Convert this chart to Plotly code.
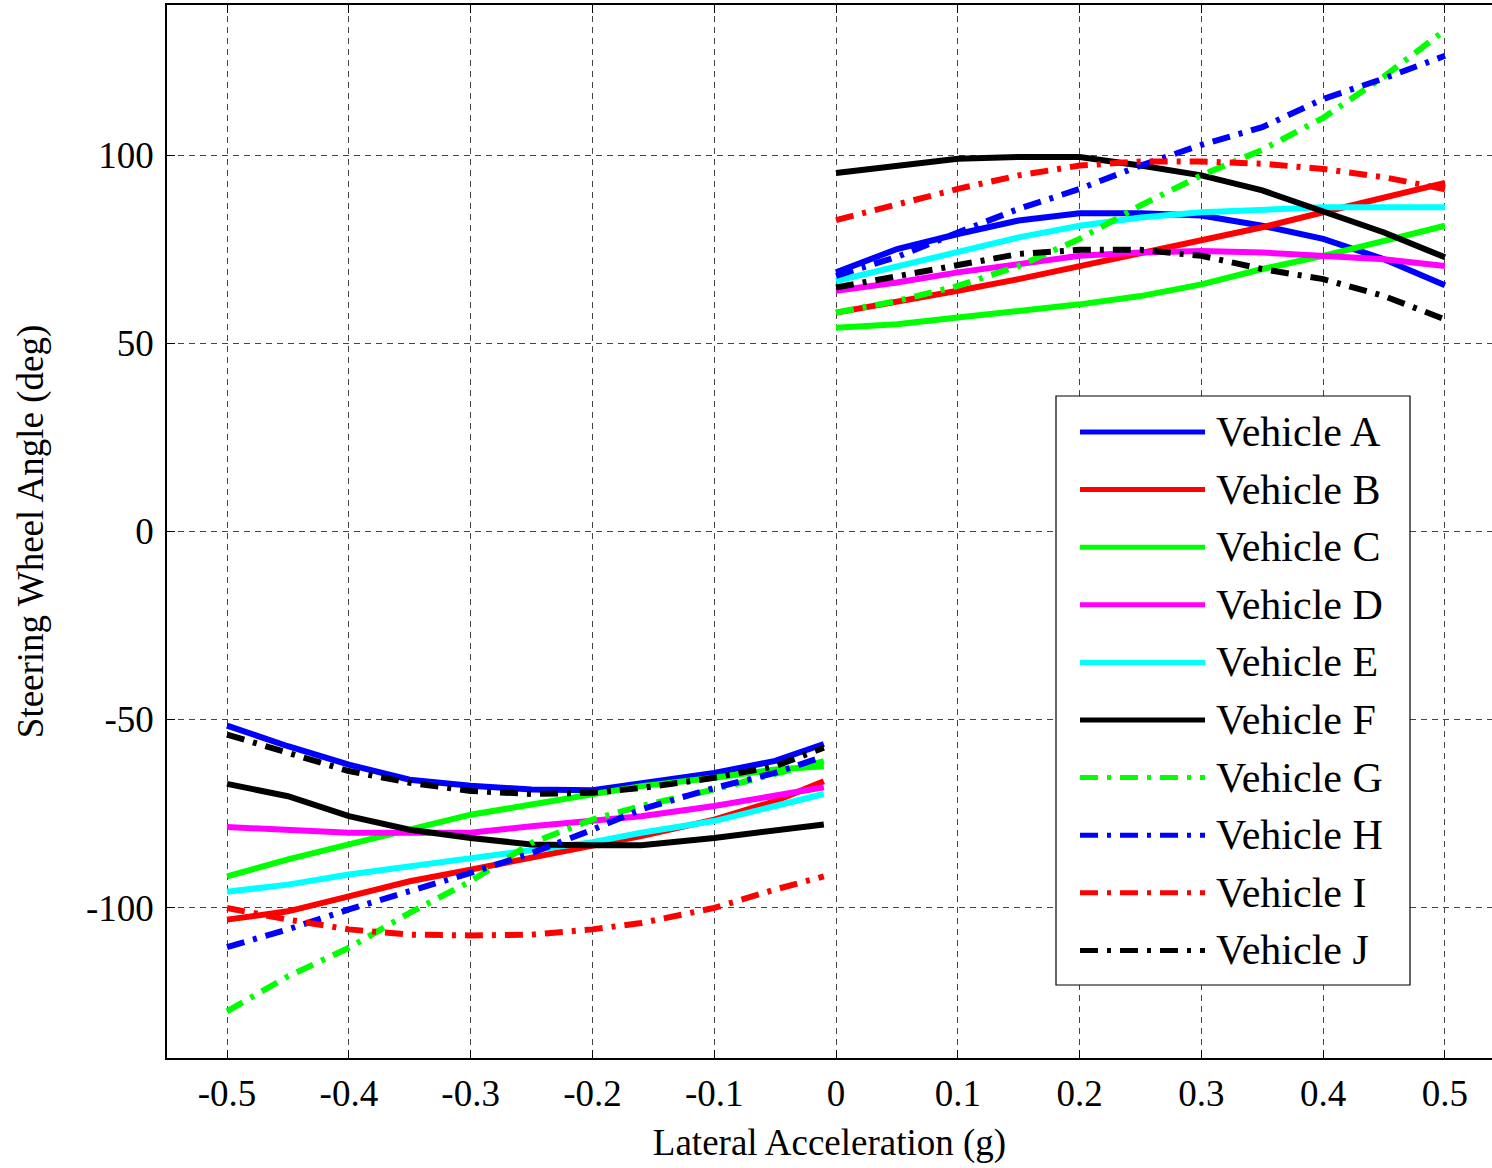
import plotly.graph_objects as go

# ---------------- data ----------------
vehicles = ["Vehicle A", "Vehicle B", "Vehicle C", "Vehicle D", "Vehicle E",
            "Vehicle F", "Vehicle G", "Vehicle H", "Vehicle I", "Vehicle J"]
colors = ["#0000FF", "#FF0000", "#00FF00", "#FF00FF", "#00FFFF",
          "#000000", "#00FF00", "#0000FF", "#FF0000", "#000000"]
dashed = [False, False, False, False, False, False, True, True, True, True]

x_neg = [-0.5, -0.45, -0.4, -0.35, -0.3, -0.25, -0.2, -0.16, -0.1, -0.05, -0.01]
x_pos = [0.0, 0.05, 0.1, 0.15, 0.2, 0.25, 0.3, 0.35, 0.4, 0.45, 0.5]

neg_A = [-51.6, -57.1, -62.0, -66.0, -67.6, -68.6, -68.8, -66.8, -64.2, -61.0, -56.5]
neg_B = [-103.2, -101.0, -97.0, -93.0, -89.9, -86.8, -83.7, -81.0, -76.6, -71.7, -66.4]
neg_C = [-91.7, -87.2, -83.2, -79.3, -75.3, -72.6, -70.0, -67.7, -65.5, -63.3, -62.4]
neg_D = [-78.6, -79.3, -80.1, -80.1, -80.1, -78.4, -77.0, -75.7, -73.0, -70.4, -68.0]
neg_E = [-95.8, -93.9, -91.2, -89.0, -86.8, -84.6, -82.6, -80.1, -77.0, -73.0, -69.8]
neg_F = [-67.1, -70.4, -75.7, -79.3, -81.5, -83.2, -83.4, -83.4, -81.5, -79.3, -77.9]
neg_G = [-127.6, -118.3, -110.7, -101.4, -93.0, -82.8, -76.6, -73.0, -68.6, -64.6, -61.1]
neg_H = [-110.5, -105.8, -100.5, -95.7, -90.8, -85.5, -79.3, -73.9, -68.2, -64.2, -59.8]
neg_I = [-100.1, -103.2, -105.8, -107.2, -107.4, -107.2, -105.8, -104.1, -100.1, -95.2, -91.7]
neg_J = [-54.0, -58.9, -63.7, -66.8, -69.0, -69.8, -69.5, -68.2, -65.5, -62.4, -57.5]

pos_A = [68.9, 75.1, 79.1, 82.7, 84.6, 84.6, 84.0, 81.3, 77.8, 72.4, 65.5]
pos_B = [58.2, 60.9, 64.0, 67.1, 70.6, 74.2, 77.8, 80.9, 84.9, 88.9, 92.7]
pos_C = [54.2, 55.1, 56.9, 58.6, 60.4, 62.6, 65.7, 69.8, 73.3, 77.3, 81.3]
pos_D = [64.0, 66.2, 68.9, 71.1, 73.3, 74.2, 74.6, 74.2, 73.5, 72.4, 70.6]
pos_E = [66.6, 70.6, 74.2, 78.2, 81.3, 83.5, 84.9, 85.6, 86.2, 86.2, 86.2]
pos_F = [95.3, 97.3, 99.1, 99.6, 99.6, 97.3, 94.7, 90.7, 85.3, 79.5, 72.9]
pos_G = [58.2, 61.3, 65.3, 70.6, 77.8, 86.7, 94.7, 101.5, 110.0, 121.0, 133.3]
pos_H = [68.0, 73.0, 79.5, 85.8, 91.1, 97.3, 102.8, 107.5, 115.0, 120.5, 126.5]
pos_I = [82.8, 87.1, 91.1, 94.7, 97.3, 98.4, 98.4, 97.8, 96.4, 94.2, 91.0]
pos_J = [64.9, 68.0, 71.1, 73.8, 74.9, 74.9, 73.3, 69.8, 67.1, 62.6, 56.4]

neg_series = [neg_A, neg_B, neg_C, neg_D, neg_E, neg_F, neg_G, neg_H, neg_I, neg_J]
pos_series = [pos_A, pos_B, pos_C, pos_D, pos_E, pos_F, pos_G, pos_H, pos_I, pos_J]

x_tick_vals = [-0.5, -0.4, -0.3, -0.2, -0.1, 0, 0.1, 0.2, 0.3, 0.4, 0.5]
x_tick_text = ["-0.5", "-0.4", "-0.3", "-0.2", "-0.1", "0", "0.1", "0.2", "0.3", "0.4", "0.5"]
y_tick_vals = [-100, -50, 0, 50, 100]
y_tick_text = ["-100", "-50", "0", "50", "100"]

# ---------------- figure ----------------
FONT = "Liberation Serif, Times New Roman, serif"
DASHDOT = "18px,9px,4px,9px"
W, H = 1492, 1168
ML, MR, MT, MB = 167, 0, 5, 110

fig = go.Figure()
for name, col, dd, yn, yp in zip(vehicles, colors, dashed, neg_series, pos_series):
    fig.add_trace(go.Scatter(
        x=x_neg + [None] + x_pos,
        y=yn + [None] + yp,
        mode="lines",
        name=name,
        line=dict(color=col, width=6, dash=DASHDOT if dd else "solid"),
        connectgaps=False,
        showlegend=False,
    ))

# custom legend (MATLAB-like)
pw, ph = W - ML - MR, H - MT - MB
def px2paper(px, py):
    return (px - ML) / pw, (H - MB - py) / ph

bx0, by0 = px2paper(1056, 985)
bx1, by1 = px2paper(1410, 396)
shapes = [dict(type="rect", xref="paper", yref="paper", x0=bx0, y0=by0, x1=bx1, y1=by1,
               line=dict(color="black", width=1.2), fillcolor="white", layer="above")]
annotations = []
for i, (name, col, dd) in enumerate(zip(vehicles, colors, dashed)):
    py = 432 + i * 57.6
    lx0, ly = px2paper(1080, py)
    lx1, _ = px2paper(1205, py)
    tx, _ = px2paper(1214, py)
    shapes.append(dict(type="line", xref="paper", yref="paper", x0=lx0, x1=lx1, y0=ly, y1=ly,
                       line=dict(color=col, width=5, dash=DASHDOT if dd else "solid"),
                       layer="above"))
    annotations.append(dict(xref="paper", yref="paper", x=tx, y=ly, text=name,
                            showarrow=False, xanchor="left", yanchor="middle",
                            font=dict(family=FONT, size=42, color="black")))

fig.update_layout(
    width=W, height=H,
    margin=dict(l=ML, r=MR, t=MT, b=MB),
    paper_bgcolor="white", plot_bgcolor="white",
    font=dict(family=FONT, size=37, color="black"),
    shapes=shapes, annotations=annotations,
    showlegend=False,
)
fig.update_xaxes(
    range=[-0.5493, 0.5386], tickvals=x_tick_vals, ticktext=x_tick_text,
    showline=True, linecolor="black", linewidth=1.5, mirror="ticks",
    ticks="inside", ticklen=8, tickcolor="black",
    showgrid=True, gridcolor="#444", gridwidth=1, griddash="6px,5px",
    zeroline=False, ticklabelstandoff=2,
    title=dict(text="Lateral Acceleration (g)", standoff=16,
               font=dict(family=FONT, size=37)),
)
fig.update_yaxes(
    range=[-140, 140], tickvals=y_tick_vals, ticktext=y_tick_text,
    showline=True, linecolor="black", linewidth=1.5, mirror=False,
    ticks="inside", ticklen=8, tickcolor="black",
    showgrid=True, gridcolor="#444", gridwidth=1, griddash="6px,5px",
    zeroline=False, ticklabelstandoff=4,
    title=dict(text="Steering Wheel Angle (deg)", standoff=31,
               font=dict(family=FONT, size=37)),
)

fig.write_html("out.html",
               config={"displayModeBar": False},
               post_script="document.body.style.margin='0';document.body.style.overflow='hidden';")
